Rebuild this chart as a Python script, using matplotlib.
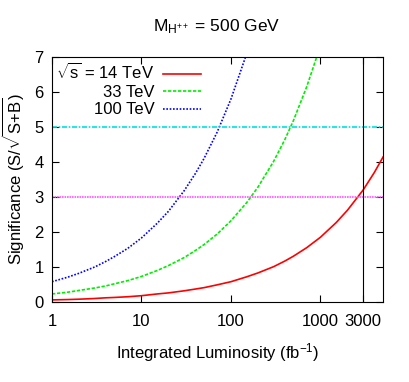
import matplotlib
matplotlib.use('Agg')
import matplotlib.pyplot as plt

plt.rcParams['font.family'] = ['Liberation Sans', 'DejaVu Sans']
plt.rcParams['mathtext.fontset'] = 'custom'
plt.rcParams['mathtext.rm'] = 'Liberation Sans'
plt.rcParams['mathtext.it'] = 'Liberation Sans'

# integrated luminosity (fb^-1) and significance
lumi = [1, 1.5, 2, 3, 4, 5, 7, 10, 15, 20, 30, 40, 50, 70, 100, 150, 200, 300,
        400, 500, 700, 1000, 1500, 2000, 3000, 4000, 5000]
sig_14 = [0.06, 0.07, 0.08, 0.10, 0.12, 0.13, 0.15, 0.18, 0.23, 0.26, 0.32, 0.37,
          0.41, 0.49, 0.58, 0.72, 0.83, 1.01, 1.17, 1.31, 1.55, 1.85, 2.27, 2.62,
          3.20, 3.70, 4.14]
lumi_33 = lumi[:21] + [900]
sig_33 = [0.23, 0.28, 0.33, 0.40, 0.46, 0.52, 0.61, 0.73, 0.90, 1.04, 1.27, 1.47,
          1.64, 1.94, 2.32, 2.84, 3.28, 4.02, 4.64, 5.19, 6.14, 6.97]
lumi_100 = lumi[:16]
sig_100 = [0.58, 0.71, 0.82, 1.00, 1.16, 1.30, 1.53, 1.83, 2.25, 2.59, 3.18, 3.67,
           4.10, 4.85, 5.80, 7.10]

xticks = [1, 10, 100, 1000, 3000]
xticklabels = ['1', '10', '100', '1000', '3000']
yticks = [0, 1, 2, 3, 4, 5, 6, 7]

fig = plt.figure(figsize=(4.09, 3.82), dpi=100)
ax = fig.add_axes([52/409, 80/382, 331/409, 245/382])

ax.plot(lumi, sig_14, color='#ff0000', lw=1.2, label=r'$\sqrt{\mathrm{s}}$ = 14 TeV')
ax.plot(lumi_33, sig_33, color='#00ee00', lw=1.2, ls=(0, (2, 1)), label='33 TeV')
ax.plot(lumi_100, sig_100, color='#0000ff', lw=1.2, ls=(0, (1, 1)), label='100 TeV')

ax.axhline(5, color='#00e0e0', lw=1.2, ls=(0, (3, 1, 1, 1)))
ax.axhline(3, color='#ff55ff', lw=1.2, ls=(0, (1, 0.5)))
ax.axvline(3000, color='black', lw=0.8)

ax.set_xscale('log')
ax.set_xlim(1, 5000)
ax.set_ylim(0, 7)
ax.set_xticks(xticks)
ax.set_xticklabels(xticklabels)
ax.set_yticks(yticks)
ax.minorticks_off()
ax.tick_params(direction='in', top=True, right=True, labelsize=12, length=5, pad=9)
ax.tick_params(axis='y', pad=6)

ax.set_xlabel(r'Integrated Luminosity (fb$^{-1}$)', fontsize=12, labelpad=8)
ax.set_ylabel(r'Significance (S/$\sqrt{\mathrm{S{+}B}}$)', fontsize=12)
ax.yaxis.set_label_coords(-0.08, 0.5)
fig.text(217/409, 1 - 27/382, r'M$_{\mathrm{H}^{++}}$ = 500 GeV', ha='center', va='center', fontsize=12.5)

ax.legend(loc='upper right', markerfirst=False, frameon=False, fontsize=12,
          handlelength=2.3, handletextpad=0.5, labelspacing=0.15,
          borderpad=0.1, borderaxespad=0, bbox_to_anchor=(0.456, 0.985))

fig.savefig('out.png', dpi=100)
